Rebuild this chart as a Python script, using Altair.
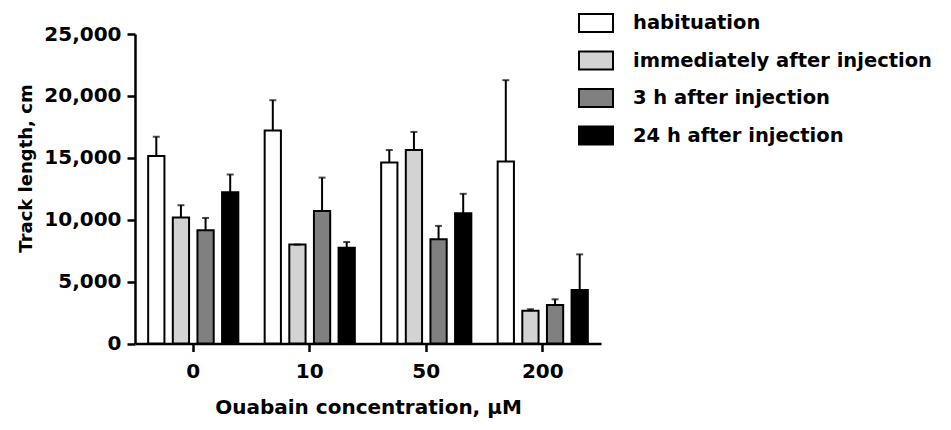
import altair as alt
import pandas as pd

concentrations = ["0", "10", "50", "200"]
series = ["habituation", "immediately after injection", "3 h after injection", "24 h after injection"]
colors = ["#ffffff", "#d3d3d3", "#808080", "#000000"]

hab_mean = [15150, 17200, 14620, 14700]
hab_sem = [1550, 2450, 1000, 6570]
imm_mean = [10170, 7990, 15630, 2640]
imm_sem = [1000, 0, 1460, 130]
h3_mean = [9150, 10700, 8420, 3110]
h3_sem = [990, 2700, 1080, 460]
h24_mean = [12220, 7740, 10530, 4320]
h24_sem = [1430, 460, 1560, 2880]

means = [hab_mean, imm_mean, h3_mean, h24_mean]
sems = [hab_sem, imm_sem, h3_sem, h24_sem]

rows = []
for s, m_list, e_list in zip(series, means, sems):
    for c, m, e in zip(concentrations, m_list, e_list):
        rows.append({"conc": c, "series": s, "mean": m, "top": m + e})
df = pd.DataFrame(rows)

FONT = "DejaVu Sans"

common_axis = dict(
    labelFontSize=20,
    labelFont=FONT,
    labelFontWeight="bold",
    labelColor="black",
    titleFont=FONT,
    titleFontWeight="bold",
    titleColor="black",
    domainColor="black",
    domainWidth=2.5,
    tickColor="black",
    tickWidth=2.5,
    tickSize=8,
    grid=False,
)

x_axis = alt.Axis(
    title="Ouabain concentration, μM",
    labelAngle=0,
    labelPadding=10,
    titleFontSize=20,
    titlePadding=16,
    **common_axis,
)
y_axis = alt.Axis(
    title="Track length, cm",
    values=[0, 5000, 10000, 15000, 20000, 25000],
    format=",d",
    labelPadding=6,
    titleFontSize=18,
    titlePadding=8,
    titleY=134,
    **common_axis,
)

x_scale = alt.Scale(paddingInner=0.15, paddingOuter=0.075)
y_scale = alt.Scale(domain=[0, 25000], nice=False)

xoff = alt.XOffset(
    "series:N",
    sort=series,
    scale=alt.Scale(paddingInner=0.34, paddingOuter=0.18),
)

bars = alt.Chart(df).mark_bar(stroke="black", strokeWidth=2).encode(
    x=alt.X("conc:N", sort=concentrations, scale=x_scale, axis=x_axis),
    xOffset=xoff,
    y=alt.Y("mean:Q", scale=y_scale, axis=y_axis),
    fill=alt.Fill(
        "series:N",
        sort=series,
        scale=alt.Scale(domain=series, range=colors),
        legend=alt.Legend(
            title=None,
            orient="none",
            legendX=443,
            legendY=-29,
            padding=0,
            symbolType="M-1,-0.53H1V0.53H-1Z",
            symbolSize=1156,
            symbolStrokeColor="black",
            symbolStrokeWidth=2,
            labelFontSize=19.5,
            labelFont=FONT,
            labelFontWeight="bold",
            labelColor="black",
            labelOffset=19,
            rowPadding=5.5,
            labelLimit=400,
        ),
    ),
)

err = alt.Chart(df).mark_rule(color="black", strokeWidth=2).encode(
    x=alt.X("conc:N", sort=concentrations, scale=x_scale, axis=x_axis),
    xOffset=xoff,
    y=alt.Y("mean:Q", scale=y_scale, axis=y_axis),
    y2="top:Q",
)

caps = alt.Chart(df).mark_tick(color="black", thickness=2, size=7).encode(
    x=alt.X("conc:N", sort=concentrations, scale=x_scale, axis=x_axis),
    xOffset=xoff,
    y=alt.Y("top:Q", scale=y_scale, axis=y_axis),
)

chart = (
    alt.layer(bars, err, caps)
    .properties(
        width=466,
        height=309.5,
        background="white",
        autosize=alt.AutoSizeParams(type="none"),
        padding={"left": 127, "top": 26, "right": 342, "bottom": 80},
    )
    .configure_view(strokeWidth=0, stroke="transparent")
)

chart.save("out.html", embed_options={"renderer": "svg", "actions": False})
